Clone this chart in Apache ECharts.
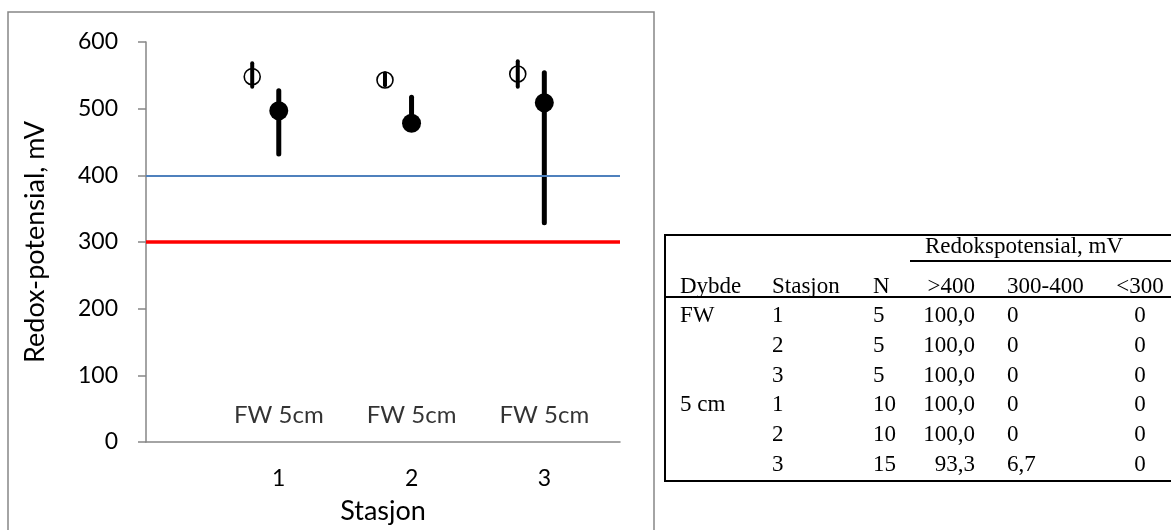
<!DOCTYPE html>
<html>
<head>
<meta charset="utf-8">
<script src="https://cdn.jsdelivr.net/npm/echarts@6/dist/echarts.min.js"></script>
<style>
  html, body { margin: 0; padding: 0; background: #fff; }
  #chart { width: 1171px; height: 530px; }
</style>
</head>
<body>
<div id="chart"></div>
<script>
// Redox potential per station: surface water (FW) and 5 cm depth, mean with min-max range
const stations = [1, 2, 3];
const depthLabels = ['FW', '5cm'];
const fwShift = -0.2;               // FW points sit just left of each station
const fwMean = [548, 543, 552];
const fwLow = [533, 535, 533];
const fwHigh = [568, 553, 571];
const cmMean = [497, 478, 509];
const cmLow = [432, 470, 329];
const cmHigh = [527, 517, 554];
const yTicks = [0, 100, 200, 300, 400, 500, 600];
const limitBlue = 400;
const limitRed = 300;
const labelLevel = 40;

// Summary table: share of measurements per redox class
const tableTitle = 'Redokspotensial, mV';
const tableHeader = ['Dybde', 'Stasjon', 'N', '>400', '300-400', '<300'];
const colDepth = ['FW', '', '', '5 cm', '', ''];
const colStation = ['1', '2', '3', '1', '2', '3'];
const colN = ['5', '5', '5', '10', '10', '15'];
const colAbove400 = ['100,0', '100,0', '100,0', '100,0', '100,0', '93,3'];
const colMid = ['0', '0', '0', '0', '0', '6,7'];
const colBelow300 = ['0', '0', '0', '0', '0', '0'];

const chart = echarts.init(document.getElementById('chart'));
const sans = 'Lato, "Open Sans", sans-serif';
const serif = '"Liberation Serif", "DejaVu Serif", serif';
const axisGrey = '#868686';

function rangeBar(width) {
  return function (params, api) {
    const a = api.coord([api.value(0), api.value(1)]);
    const b = api.coord([api.value(0), api.value(2)]);
    return {
      type: 'line',
      shape: { x1: a[0], y1: a[1], x2: b[0], y2: b[1] },
      style: { stroke: '#000', lineWidth: width, lineCap: 'round' }
    };
  };
}

// table layout
const tX = 665, tTop = 235, tRight = 1180, tBottom = 481;
const colX = [680, 772, 873, 975, 1007, 1140];
const colAlign = ['left', 'left', 'left', 'right', 'left', 'center'];
const headY = 287, rowY0 = 316, rowStep = 29.8;
const tFont = '23px ' + serif;
const tableEls = [];
tableEls.push({ type: 'rect', shape: { x: tX, y: tTop, width: tRight - tX, height: tBottom - tTop },
  style: { fill: 'none', stroke: '#000', lineWidth: 2 } });
tableEls.push({ type: 'line', shape: { x1: 910, y1: 261, x2: tRight, y2: 261 },
  style: { stroke: '#000', lineWidth: 2 } });
tableEls.push({ type: 'line', shape: { x1: tX, y1: 297, x2: tRight, y2: 297 },
  style: { stroke: '#000', lineWidth: 2 } });
tableEls.push({ type: 'text', style: { x: 925, y: 247, text: tableTitle, font: tFont, fill: '#000',
  align: 'left', verticalAlign: 'middle' } });
tableHeader.forEach((h, c) => {
  tableEls.push({ type: 'text', style: { x: colX[c], y: headY, text: h, font: tFont, fill: '#000',
    align: colAlign[c], verticalAlign: 'middle' } });
});
const cols = [colDepth, colStation, colN, colAbove400, colMid, colBelow300];
cols.forEach((col, c) => {
  col.forEach((v, r) => {
    if (!v) return;
    tableEls.push({ type: 'text', style: { x: colX[c], y: rowY0 + r * rowStep, text: v, font: tFont,
      fill: '#000', align: colAlign[c], verticalAlign: 'middle' } });
  });
});

const option = {
  animation: false,
  backgroundColor: '#fff',
  grid: { left: 146, right: 551, top: 42, bottom: 86, containLabel: false },
  xAxis: {
    type: 'value', min: 0, max: 3.57,
    axisLine: { show: true, lineStyle: { color: axisGrey, width: 1.5 } },
    axisTick: { show: false },
    splitLine: { show: false },
    axisLabel: { customValues: stations, fontSize: 23, fontFamily: sans, color: '#000', margin: 25 },
    name: 'Stasjon', nameLocation: 'middle', nameGap: 56,
    nameTextStyle: { fontSize: 27, fontFamily: sans, color: '#000' }
  },
  yAxis: {
    type: 'value', min: yTicks[0], max: yTicks[yTicks.length - 1], interval: 100,
    axisLine: { show: true, lineStyle: { color: axisGrey, width: 1.5 } },
    axisTick: { show: true, length: 8, lineStyle: { color: axisGrey, width: 1.5 } },
    splitLine: { show: false },
    axisLabel: { fontSize: 23, fontFamily: sans, color: '#000', margin: 28 },
    name: 'Redox-potensial, mV', nameLocation: 'middle', nameGap: 97,
    nameTextStyle: { fontSize: 27, fontFamily: sans, color: '#000' }
  },
  graphic: [
    { type: 'rect', shape: { x: 8, y: 12, width: 646, height: 540 },
      style: { fill: 'none', stroke: axisGrey, lineWidth: 1.5 }, z: 0 },
    { type: 'group', children: tableEls }
  ],
  series: [
    {
      type: 'scatter', symbolSize: 0, silent: true,
      data: stations.map(s => [s, labelLevel]),
      label: { show: true, position: 'inside', formatter: depthLabels.join(' '),
        fontSize: 24, fontFamily: sans, color: '#000' },
      markLine: {
        silent: true, symbol: 'none', label: { show: false },
        data: [
          { yAxis: limitBlue, lineStyle: { color: '#4F81BD', width: 2, type: 'solid' } },
          { yAxis: limitRed, lineStyle: { color: '#FF0000', width: 3.5, type: 'solid' } }
        ]
      }
    },
    { type: 'custom', renderItem: rangeBar(4),
      data: stations.map((s, i) => [s + fwShift, fwLow[i], fwHigh[i]]), z: 3 },
    { type: 'scatter', symbol: 'circle', symbolSize: 16,
      itemStyle: { color: 'rgba(0,0,0,0)', borderColor: '#000', borderWidth: 1.6, opacity: 1 },
      data: stations.map((s, i) => [s + fwShift, fwMean[i]]), z: 4 },
    { type: 'custom', renderItem: rangeBar(5),
      data: stations.map((s, i) => [s, cmLow[i], cmHigh[i]]), z: 3 },
    { type: 'scatter', symbol: 'circle', symbolSize: 19,
      itemStyle: { color: '#000', opacity: 1 },
      data: stations.map((s, i) => [s, cmMean[i]]), z: 4 }
  ]
};
chart.setOption(option);
</script>
</body>
</html>
